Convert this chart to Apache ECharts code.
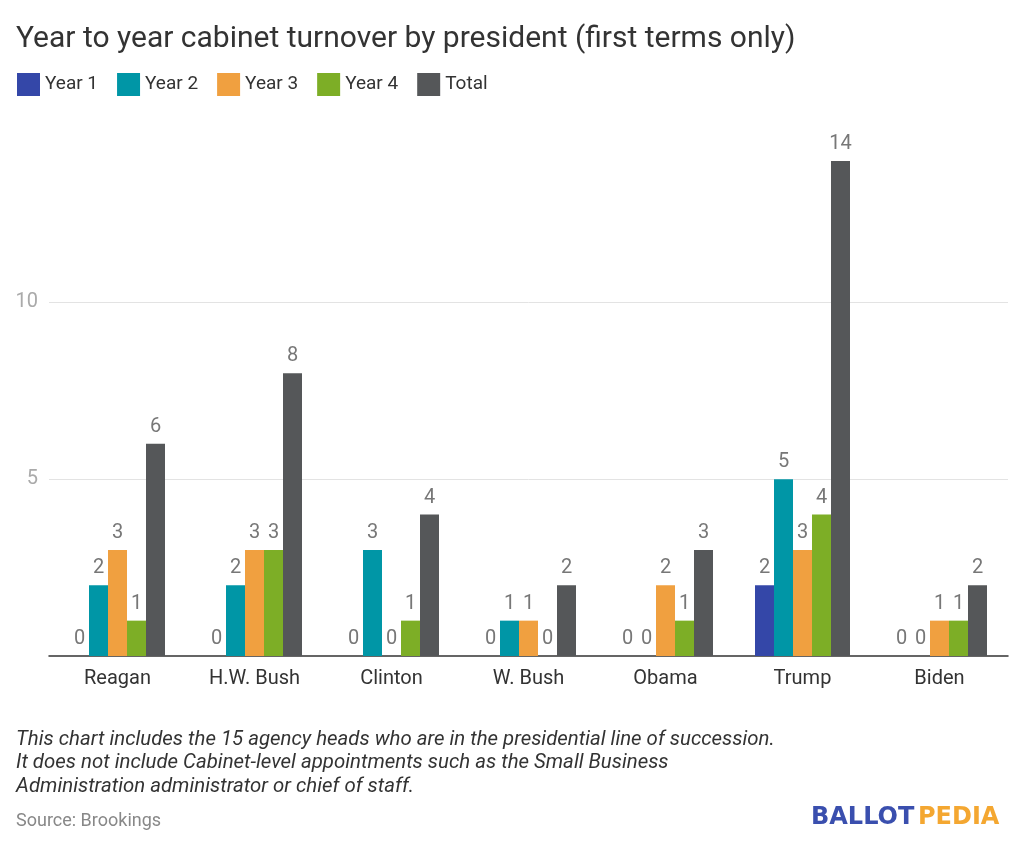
<!DOCTYPE html>
<html><head><meta charset="utf-8">
<script src="https://cdn.jsdelivr.net/npm/echarts@6/dist/echarts.min.js"></script>
<style>html,body{margin:0;padding:0;background:#fff}#c{width:1024px;height:849px}</style>
</head><body><div id="c"></div>
<script>
const presidents = ['Reagan','H.W. Bush','Clinton','W. Bush','Obama','Trump','Biden'];
const year1 = [0,0,0,0,0,2,0];
const year2 = [2,2,3,1,0,5,0];
const year3 = [3,3,0,1,2,3,1];
const year4 = [1,3,1,0,1,4,1];
const total = [6,8,4,2,3,14,2];
const seriesNames = ['Year 1','Year 2','Year 3','Year 4','Total'];
const colors = ['#3447a8','#0096a6','#f0a040','#7dae26','#555759'];
const vals = [year1,year2,year3,year4,total];
const F = 'Roboto, sans-serif';
const chart = echarts.init(document.getElementById('c'));
chart.setOption({
  animation:false,
  textStyle:{fontFamily:F},
  title:{text:'Year to year cabinet turnover by president (first terms only)',left:11,top:19,
    textStyle:{fontFamily:F,fontSize:30,fontWeight:'normal',color:'#333'}},
  legend:{left:12,top:68,itemWidth:23,itemHeight:23,itemGap:19,icon:'rect',
    textStyle:{fontFamily:F,fontSize:19,color:'#333'},data:seriesNames},
  grid:{left:49,width:959,top:161,bottom:193,containLabel:false},
  xAxis:{type:'category',data:presidents,
    axisLine:{lineStyle:{color:'#333',width:1.5}},axisTick:{show:false},
    axisLabel:{fontFamily:F,fontSize:20,color:'#333',margin:13}},
  yAxis:{type:'value',min:0,max:14,interval:5,
    axisLine:{show:false},axisTick:{show:false},
    splitLine:{lineStyle:{color:'#e3e3e3'},showMaxLine:false,showMinLine:false},
    axisLabel:{fontFamily:F,fontSize:20,color:'#aaa',margin:11,
      formatter:v=>(v===5||v===10)?String(v):''}},
  series: seriesNames.map((n,i)=>({name:n,type:'bar',data:vals[i],barWidth:19,barGap:'0%',
    itemStyle:{color:colors[i]},
    label:{show:true,position:'top',distance:7,fontFamily:F,fontSize:20,color:'#777'}})),
  graphic:[
    {type:'text',left:16,top:728,style:{text:'This chart includes the 15 agency heads who are in the presidential line of succession.\nIt does not include Cabinet-level appointments such as the Small Business\nAdministration administrator or chief of staff.',
      font:'italic 20.4px Roboto, sans-serif',fill:'#333',lineHeight:23.5}},
    {type:'text',left:16,top:812,style:{text:'Source: Brookings',font:'18px Roboto, sans-serif',fill:'#888'}},
    {type:'text',left:811,top:806,style:{text:'BALLOT',font:'bold 24px "DejaVu Sans", sans-serif',fill:'#3a4fae'}},
    {type:'text',left:918,top:806,style:{text:'PEDIA',font:'bold 24px "DejaVu Sans", sans-serif',fill:'#f4a731'}}
  ]
});
</script></body></html>
